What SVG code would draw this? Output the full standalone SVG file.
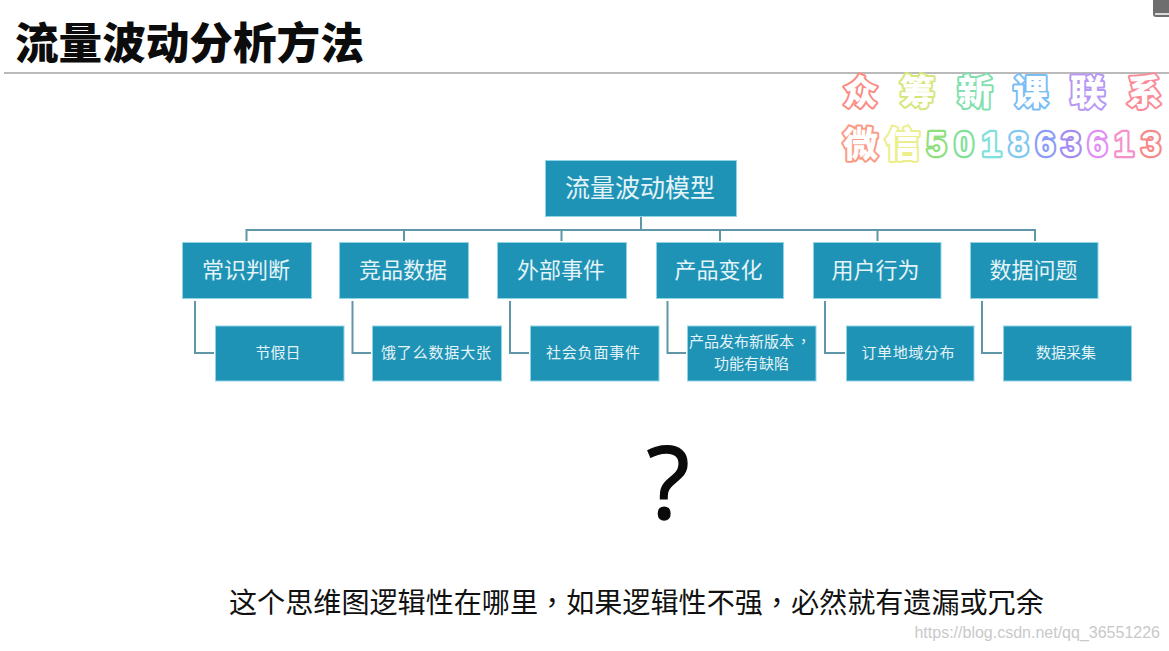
<svg xmlns="http://www.w3.org/2000/svg" width="1169" height="651" viewBox="0 0 1169 651">
<style>
text{font-family:"Noto Sans CJK SC","Liberation Sans",sans-serif}
.box{fill:#1f93b6;stroke:#8fd3e4;stroke-width:1}
.t{fill:#e4f3f8;text-anchor:middle}
.r{font-size:25px}.a{font-size:22px}.b{font-size:15px}
.tc{font-family:"Noto Sans CJK TC",sans-serif}
.con{fill:none;stroke:#5f97a8;stroke-width:2}
.wm{font-size:35px;font-weight:900;fill:#fff;stroke-width:4;paint-order:stroke;stroke-linejoin:round;text-anchor:middle}
.wd{font-family:"Liberation Sans",sans-serif;font-size:35px;font-weight:700;fill:#fff;stroke-width:4.5;paint-order:stroke;stroke-linejoin:round;text-anchor:middle}
</style>
<rect width="1169" height="651" fill="#fff"/>
<text id="title" x="15" y="59" font-size="43.6" font-weight="900" fill="#0c0c0c">流量波动分析方法</text>
<line x1="4" y1="73" x2="1169" y2="73" stroke="#a3a3a3" stroke-width="1.5"/>
<path d="M1153 0V14Q1153 17 1156 17H1169V0Z" fill="#6e6e6e"/>
<path d="M1155 14H1169" stroke="#fff" stroke-width="1.5"/>
<g id="watermark">
<text class="wm" x="860.500" y="105" stroke="#fa8c84">众</text>
<text class="wm" x="917.500" y="105" stroke="#d5e67c">筹</text>
<text class="wm" x="975" y="105" stroke="#7fdfae">新</text>
<text class="wm" x="1030.500" y="105" stroke="#79bdf5">课</text>
<text class="wm" x="1087.500" y="105" stroke="#b697f5">联</text>
<text class="wm" x="1144.500" y="105" stroke="#fb8a98">系</text>
<text class="wm" x="860.500" y="157" stroke="#fa9a84">微</text>
<text class="wm" x="902.500" y="157" stroke="#ebee8a">信</text>
<text class="wd" x="936.500" y="156" stroke="#8fe07c">5</text>
<text class="wd" x="964" y="156" stroke="#7fe09a">0</text>
<text class="wd" x="991.500" y="156" stroke="#80e0dc">1</text>
<text class="wd" x="1018.500" y="156" stroke="#80c8f0">8</text>
<text class="wd" x="1045.500" y="156" stroke="#8a9cf5">6</text>
<text class="wd" x="1071" y="156" stroke="#a48cf0">3</text>
<text class="wd" x="1097.500" y="156" stroke="#e090f5">6</text>
<text class="wd" x="1124" y="156" stroke="#f590c8">1</text>
<text class="wd" x="1151" y="156" stroke="#f58a8a">3</text>
</g>
<g id="connectors" class="con">
<path d="M641 217V230M246.500 241V230H1035V241M404 230V241M561.500 230V241M720 230V241M877.500 230V241"/>
<path d="M195 301V353H214M352.500 301V353H371M510 301V353H529M667.500 301V353H686M825 301V353H845M982 301V353H1002"/>
</g>
<g id="root"><rect class="box" x="545.500" y="160.500" width="191" height="56"/><text class="t r" x="640" y="197">流量波动模型</text></g>
<g id="n1"><rect class="box" x="182.500" y="242.500" width="129" height="56"/><text class="t a" x="246" y="278">常识判断</text></g>
<g id="n2"><rect class="box" x="339.500" y="242.500" width="129" height="56"/><text class="t a" x="403" y="278">竞品数据</text></g>
<g id="n3"><rect class="box" x="497.500" y="242.500" width="129" height="56"/><text class="t a" x="561" y="278">外部事件</text></g>
<g id="n4"><rect class="box" x="656.500" y="242.500" width="127" height="56"/><text class="t a" x="718.500" y="278">产品变化</text></g>
<g id="n5"><rect class="box" x="813.500" y="242.500" width="127.500" height="56"/><text class="t a" x="875.500" y="278">用户行为</text></g>
<g id="n6"><rect class="box" x="970.500" y="242.500" width="127.500" height="56"/><text class="t a" x="1033.500" y="278">数据问题</text></g>
<g id="m1"><rect class="box" x="215.500" y="326" width="128.500" height="55"/><text class="t b" x="278" y="358">节假日</text></g>
<g id="m2"><rect class="box" x="372.500" y="326" width="129" height="55"/><text class="t b" x="436" y="358" textLength="110">饿了么数据大张</text></g>
<g id="m3"><rect class="box" x="530.500" y="326" width="128.500" height="55"/><text class="t b" x="593" y="358" textLength="94">社会负面事件</text></g>
<g id="m4"><rect class="box" x="687.500" y="326" width="128.500" height="55"/><text class="t b" x="689" y="347" style="text-anchor:start">产品发布新版本<tspan class="tc" dx="2">，</tspan></text><text class="t b" x="751.500" y="369">功能有缺陷</text></g>
<g id="m5"><rect class="box" x="846.500" y="326" width="127.500" height="55"/><text class="t b" x="908" y="358" textLength="93">订单地域分布</text></g>
<g id="m6"><rect class="box" x="1003.500" y="326" width="128" height="55"/><text class="t b" x="1066" y="358">数据采集</text></g>
<text id="question" x="668" y="519" font-size="100" fill="#0a0a0a" stroke="#0a0a0a" stroke-width="1.5" text-anchor="middle" style="font-family:'Open Sans',sans-serif">?</text>
<text id="caption" x="229" y="613" font-size="28.100" fill="#111">这个思维图逻辑性在哪里<tspan class="tc">，</tspan>如果逻辑性不强<tspan class="tc">，</tspan>必然就有遗漏或冗余</text>
<text id="credit" x="1160" y="638" font-size="16" fill="#c9c9c9" text-anchor="end" style="font-family:'Liberation Sans',sans-serif">https://blog.csdn.net/qq_36551226</text>
</svg>
